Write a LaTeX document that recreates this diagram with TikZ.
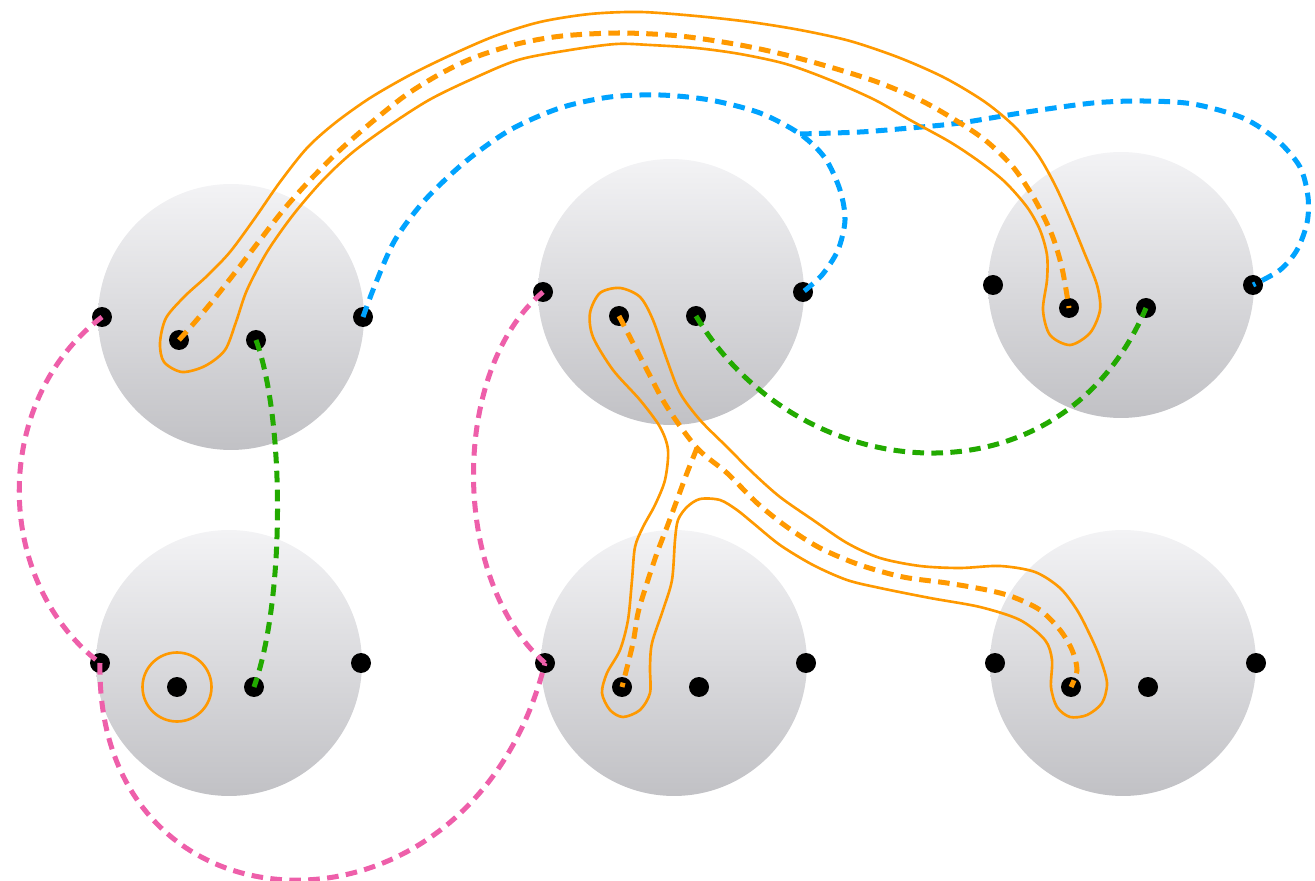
\documentclass[tikz,border=0pt]{standalone}
\definecolor{orng}{RGB}{255,153,0}
\definecolor{blu}{RGB}{0,163,255}
\definecolor{grn}{RGB}{34,170,0}
\definecolor{pnk}{RGB}{238,95,170}
\definecolor{dtop}{RGB}{243,243,245}
\definecolor{dbot}{RGB}{193,193,197}
\begin{document}
\begin{tikzpicture}[x=0.02cm,y=-0.02cm,
  disk/.style={circle,inner sep=0pt,minimum size=5.32cm,top color=dtop,bottom color=dbot,draw=none},
  pt/.style={circle,inner sep=0pt,minimum size=0.4cm,fill=black},
  conn/.style={line width=2.85pt,dash pattern=on 6.6pt off 4.2pt},
  pinkc/.style={conn,draw=pnk},
  bluec/.style={conn,draw=blu},
  greenc/.style={conn,draw=grn},
  orangec/.style={conn,draw=orng},
  hull/.style={draw=orng,line width=1.5pt},
  ring/.style={circle,inner sep=0pt,minimum size=1.38cm,draw=orng,line width=1.5pt}]
\useasboundingbox (0,0) rectangle (1315,881);
% disks
\node[disk] (dTL) at (231,317) {};
\node[disk] (dTM) at (671,292) {};
\node[disk] (dTR) at (1121,285) {};
\node[disk] (dBL) at (229,663) {};
\node[disk] (dBM) at (674,663) {};
\node[disk] (dBR) at (1123,663) {};
% dots
\node[pt] (TLa) at (102,317) {};
\node[pt] (TLb) at (179,340) {};
\node[pt] (TLc) at (256,340) {};
\node[pt] (TLd) at (363,317) {};
\node[pt] (TMa) at (543,292) {};
\node[pt] (TMb) at (619,316) {};
\node[pt] (TMc) at (696,316) {};
\node[pt] (TMd) at (803,292) {};
\node[pt] (TRa) at (993,285) {};
\node[pt] (TRb) at (1069,308) {};
\node[pt] (TRc) at (1146,308) {};
\node[pt] (TRd) at (1253,285) {};
\node[pt] (BLa) at (100,663) {};
\node[pt] (BLb) at (177,687) {};
\node[pt] (BLc) at (254,687) {};
\node[pt] (BLd) at (361,663) {};
\node[pt] (BMa) at (545,663) {};
\node[pt] (BMb) at (622,687) {};
\node[pt] (BMc) at (699,687) {};
\node[pt] (BMd) at (806,663) {};
\node[pt] (BRa) at (995,663) {};
\node[pt] (BRb) at (1071,687) {};
\node[pt] (BRc) at (1148,687) {};
\node[pt] (BRd) at (1256,663) {};
\coordinate (j1) at (800,134);
\coordinate (j2) at (697,448);
% pink
\draw[pinkc] (TLa.center) .. controls (-8,400) and (-8,580) .. (BLa.center);
\draw[pinkc] (BLa.center) .. controls (95,945) and (470,960) .. (BMa.center);
\draw[pinkc] (TMa.center) .. controls (450,370) and (450,580) .. (BMa.center);
% green
\draw[greenc] (TLc.center) .. controls (285,420) and (285,600) .. (BLc.center);
\draw[greenc] (TMc.center) .. controls (800,490) and (1060,510) .. (TRc.center);
% blue
\draw[bluec] plot[smooth] coordinates {(TLd) (375,285) (395,240) (425,200) (465,162) (510,130) (560,108) (610,97) (660,95) (710,100) (760,113) (j1) (825,158) (840,190) (845,220) (838,250) (822,275) (TMd)};
\draw[bluec] plot[smooth] coordinates {(j1) (860,132) (910,128) (960,123) (1027,112) (1093,103) (1143,101) (1193,104) (1243,118) (1277,140) (1300,167) (1308,197) (1307,223) (1297,250) (1280,270) (TRd)};
% orange dashed
\draw[orangec] plot[smooth] coordinates {(TLb) (195,322) (215,298) (237,270) (260,240) (285,208) (312,178) (340,150) (372,122) (406,95) (440,74) (473,58) (517,44) (562,36) (620,33) (680,36) (740,45) (790,56) (840,70) (880,83) (920,100) (952,118) (985,140) (1013,167) (1035,200) (1052,235) (1062,268) (TRb)};
\draw[orangec] plot[smooth] coordinates {(TMb) (647,370) (667,407) (j2) (727,473) (757,503) (787,527) (820,548) (860,565) (903,577) (947,583) (987,590) (1013,597) (1040,610) (1060,630) (1072,650) (1077,670) (BRb)};
\draw[orangec] plot[smooth] coordinates {(j2) (687,473) (677,500) (667,527) (657,553) (647,583) (638,613) (633,643) (BMb)};
% orange hulls
\draw[hull] plot[smooth cycle] coordinates {(160,343) (166,318) (185,296) (207,276) (230,252) (255,218) (280,182) (307,148) (335,123) (370,98) (410,75) (451,55) (495,36) (540,22) (590,14) (640,12) (696,16) (750,22) (800,30) (850,41) (900,58) (945,78) (985,102) (1015,127) (1038,155) (1055,185) (1070,218) (1084,252) (1097,285) (1100,310) (1090,333) (1070,345) (1050,335) (1043,310) (1047,280) (1047,255) (1040,230) (1027,207) (1005,182) (980,162) (950,142) (910,120) (875,100) (830,80) (786,64) (740,54) (696,48) (650,45) (616,44) (570,50) (518,60) (470,80) (429,100) (390,125) (353,152) (323,180) (293,215) (267,252) (247,290) (236,322) (225,350) (205,366) (182,372) (164,362)};
\draw[hull] plot[smooth cycle] coordinates {(590,313) (600,293) (620,288) (640,297) (653,320) (667,360) (680,393) (700,420) (727,447) (753,473) (780,497) (813,520) (847,543) (880,558) (920,566) (960,568) (1000,566) (1035,572) (1060,588) (1077,610) (1090,635) (1100,658) (1107,683) (1102,703) (1087,715) (1070,717) (1057,707) (1051,687) (1052,660) (1045,640) (1020,620) (980,607) (930,598) (880,588) (847,580) (813,565) (780,545) (753,523) (737,510) (720,500) (700,499) (687,507) (678,520) (675,540) (672,580) (663,610) (652,643) (650,667) (650,693) (640,710) (623,717) (610,710) (602,693) (607,673) (620,650) (628,620) (632,580) (635,547) (643,527) (655,505) (665,480) (668,450) (660,427) (640,400) (613,370) (593,337)};
\node[ring] (rg) at (BLb) {};
\end{tikzpicture}
\end{document}
